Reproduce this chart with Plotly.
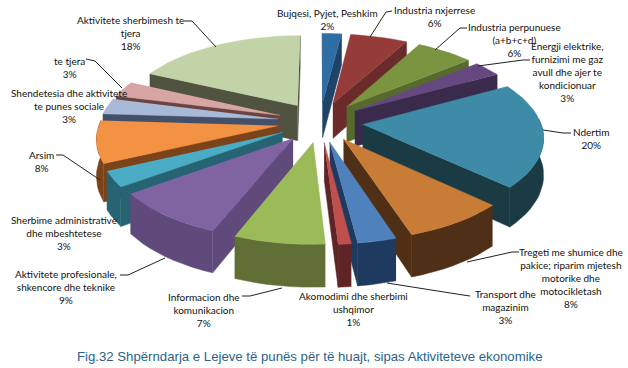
import math
import plotly.graph_objects as go

categories = [
    "Bujqesi, Pyjet, Peshkim", "Industria nxjerrese", "Industria perpunuese<br>(a+b+c+d)",
    "Energji elektrike,<br>furnizimi me gaz<br>avull dhe ajer te<br>kondicionuar", "Ndertim",
    "Tregeti me shumice dhe<br>pakice; riparim mjetesh<br>motorike dhe<br>motocikletash",
    "Transport dhe<br>magazinim", "Akomodimi dhe sherbimi<br>ushqimor", "Informacion dhe<br>komunikacion",
    "Aktivitete profesionale,<br>shkencore dhe teknike", "Sherbime administrative<br>dhe mbeshtetese",
    "Arsim", "Shendetesia dhe aktivitete<br>te punes sociale", "te tjera", "Aktivitete sherbimesh te<br>tjera",
]
values = [2, 6, 6, 3, 20, 8, 3, 1, 7, 9, 3, 8, 3, 3, 18]
top_colors = ["#2f6ea5", "#953b3a", "#7a9440", "#65487f", "#3d8ba6", "#c97c35", "#4f81bd", "#c0504d",
              "#9bbb59", "#8064a2", "#4bacc6", "#f39243", "#a9b9d8", "#d7a5a4", "#c3d3a8"]
wall_colors = ["#1d4468", "#6b2b2a", "#566a2e", "#3a2a4c", "#1a3a44", "#4f2f15", "#1f3a5f", "#5f2426",
               "#5f6f35", "#5f4a7b", "#276473", "#7a431a", "#444f69", "#6b4442", "#4f5340"]
label_pos = [(327, 11), (434, 8), (514, 25), (567, 44), (591, 130), (571, 250), (505, 292), (353, 294),
             (204, 295), (66, 272), (64, 218), (41, 153), (69, 91), (69, 59), (130, 18)]
leaders = [
    [(392, 11), (386, 12), (370, 37)], [(467, 28), (460, 28), (435, 50)], [(530, 60), (523, 60), (478, 66)],
    [(571, 133), (563, 133), (543, 130)], [(519, 252), (512, 252), (467, 262)], [(470, 296), (463, 295), (387, 283)],
    [(242, 296), (250, 296), (282, 288)], [(120, 275), (128, 275), (165, 258)], [(56, 155), (63, 155), (100, 180)],
    [(86, 59), (95, 61), (122, 88)], [(184, 21), (192, 21), (216, 47)],
]
title = "Fig.32 Shpërndarja e Lejeve të punës për të huajt, sipas Aktiviteteve ekonomike"

CX, CY, RX, RY, DEPTH, PERSP, PULL = 320, 122, 178, 83, 36, 0.13, 0.24


def project(X, Y, Z):
    s = 1 / (1 + PERSP * Y)
    return CX + RX * X * s, CY - RY * Y * s + DEPTH * Z * s


fig = go.Figure()


def poly(points, color):
    fig.add_trace(go.Scatter(x=[p[0] for p in points], y=[p[1] for p in points], mode="lines",
                             fill="toself", fillcolor=color, line=dict(color=color, width=0.5),
                             hoverinfo="skip", showlegend=False))


total = sum(values)
slices, cum = [], 0
for i, v in enumerate(values):
    a, b = 2 * math.pi * cum / total, 2 * math.pi * (cum + v) / total
    cum += v
    m = (a + b) / 2
    slices.append((math.cos(m), i, a, b, m))

for _, i, a, b, m in sorted(slices, reverse=True):
    ox, oy = PULL * math.sin(m), PULL * math.cos(m)
    n = max(3, int((b - a) / math.radians(3)))
    angles = [a + (b - a) * k / n for k in range(n + 1)]
    rim = [(ox + math.sin(t), oy + math.cos(t)) for t in angles]
    wall = wall_colors[i]
    if math.sin(a) < 0.05:
        poly([project(ox, oy, 0), project(*rim[0], 0), project(*rim[0], 1), project(ox, oy, 1)], wall)
    if math.sin(b) > -0.05:
        poly([project(ox, oy, 0), project(*rim[-1], 0), project(*rim[-1], 1), project(ox, oy, 1)], wall)
    front = [r for r, t in zip(rim, angles) if math.cos(t) < 0.1]
    if len(front) > 1:
        poly([project(x, y, 0) for x, y in front] + [project(x, y, 1) for x, y in reversed(front)], wall)
    poly([project(ox, oy, 0)] + [project(x, y, 0) for x, y in rim], top_colors[i])

annotations = [
    dict(x=x, y=y - 6, xref="x", yref="y", text=f"{c}<br>{v}%", showarrow=False, xanchor="center", yanchor="top",
         font=dict(family="Lato", size=10, color="#111111"), align="center")
    for c, v, (x, y) in zip(categories, values, label_pos)
]
annotations.append(dict(x=310, y=356, xref="x", yref="y", text=title, showarrow=False, xanchor="center",
                        yanchor="middle", font=dict(family="Liberation Sans", size=13.2, color="#2e5f8a")))
shapes = [
    dict(type="path", xref="x", yref="y", line=dict(color="#222222", width=1),
         path="M " + " L ".join(f"{x} {y}" for x, y in pts))
    for pts in leaders
]

fig.update_layout(
    width=628, height=368, margin=dict(l=0, r=0, t=0, b=0), paper_bgcolor="white", plot_bgcolor="white",
    xaxis=dict(range=[0, 628], visible=False, fixedrange=True),
    yaxis=dict(range=[368, 0], visible=False, fixedrange=True),
    annotations=annotations, shapes=shapes, showlegend=False,
)
fig.write_html("out.html", config={"displayModeBar": False},
               post_script="document.body.style.margin='0';document.documentElement.style.overflow='hidden';")
